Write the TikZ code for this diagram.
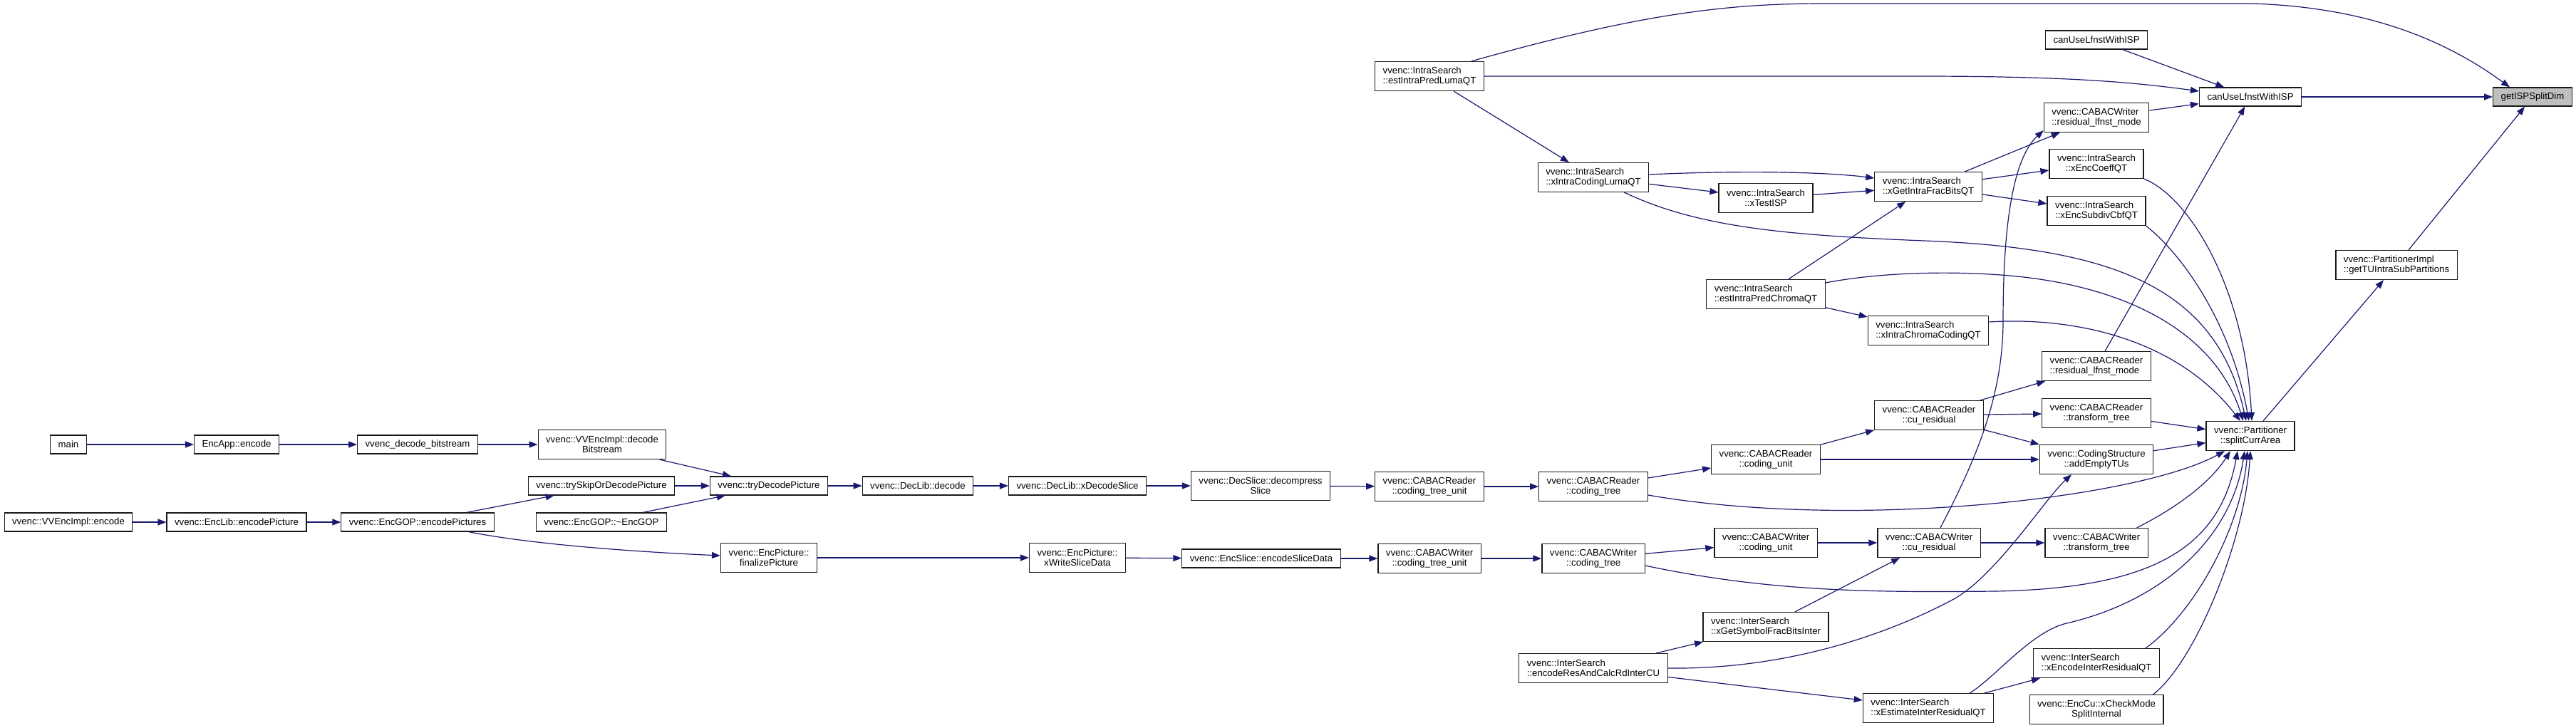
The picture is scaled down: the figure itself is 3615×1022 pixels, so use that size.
\documentclass[tikz,border=0pt]{standalone}
\usepackage{fontspec}
\setmainfont{Liberation Sans}
\usepackage{tikz}
\usetikzlibrary{arrows.meta}
\definecolor{edgeblue}{HTML}{191970}
\definecolor{boxgray}{HTML}{BFBFBF}
\newcommand{\fnfont}{\fontsize{13.2}{14}\selectfont}

\begin{document}
\begin{tikzpicture}[x=1pt, y=-1pt,
  fn/.style={draw=black!90, fill=white, line width=1.2pt,
             minimum height=26pt, inner xsep=11pt, inner ysep=2pt,
             align=center, font=\fnfont},
  fnl/.style={fn, align=left},
  two/.style={minimum height=41pt},
  hilite/.style={fn, fill=boxgray},
  arr/.style={draw=edgeblue, line width=1.2pt, -{Triangle[length=12pt,width=9pt]}}
]
  \useasboundingbox (0,0) rectangle (3615,1022);

  % callers, left part
  \node[fn] (main)     at (96,624)  {main};
  \node[fn] (encapp)   at (332,624) {EncApp::encode};
  \node[fn] (decbits)  at (586,624) {vvenc\_decode\_bitstream};
  \node[fn,two] (vvdecbs) at (845,624) {vvenc::VVEncImpl::decode\\Bitstream};
  \node[fn] (tryskip)  at (844,682) {vvenc::trySkipOrDecodePicture};
  \node[fn] (vvencode) at (96,733)  {vvenc::VVEncImpl::encode};
  \node[fn] (enclib)   at (332,733) {vvenc::EncLib::encodePicture};
  \node[fn] (encpics)  at (586,733) {vvenc::EncGOP::encodePictures};
  \node[fn] (encgopd)  at (844,733) {vvenc::EncGOP::\textasciitilde EncGOP};
  \node[fn] (trydec)   at (1079,682) {vvenc::tryDecodePicture};
  \node[fn] (declib)   at (1288,682) {vvenc::DecLib::decode};
  \node[fn] (xdecsl)   at (1512,682) {vvenc::DecLib::xDecodeSlice};
  \node[fn,two] (decomp) at (1769,682) {vvenc::DecSlice::decompress\\Slice};
  \node[fn,two] (finpic) at (1079,783) {vvenc::EncPicture::\\finalizePicture};
  \node[fn,two] (xwrite) at (1512,783) {vvenc::EncPicture::\\xWriteSliceData};
  \node[fn] (encsld)   at (1770,784) {vvenc::EncSlice::encodeSliceData};

  % CABAC reader / writer
  \node[fn,two] (rctu)   at (2006,683) {vvenc::CABACReader\\::coding\_tree\_unit};
  \node[fn,two] (rct)    at (2236,683) {vvenc::CABACReader\\::coding\_tree};
  \node[fn,two] (rcu)    at (2478,645) {vvenc::CABACReader\\::coding\_unit};
  \node[fn,two] (rcures) at (2707,583) {vvenc::CABACReader\\::cu\_residual};
  \node[fn,two] (wctu)   at (2006,784) {vvenc::CABACWriter\\::coding\_tree\_unit};
  \node[fn,two] (wct)    at (2236,784) {vvenc::CABACWriter\\::coding\_tree};
  \node[fn,two] (wcu)    at (2478,762) {vvenc::CABACWriter\\::coding\_unit};
  \node[fn,two] (wcures) at (2707,762) {vvenc::CABACWriter\\::cu\_residual};

  % inter search
  \node[fnl,two] (symfb)   at (2478,880) {vvenc::InterSearch\\::xGetSymbolFracBitsInter};
  \node[fnl,two] (encres)  at (2236,938) {vvenc::InterSearch\\::encodeResAndCalcRdInterCU};
  \node[fnl,two] (xestres) at (2706,994) {vvenc::InterSearch\\::xEstimateInterResidualQT};

  % intra search
  \node[fnl,two] (lumaqt)    at (2006,107) {vvenc::IntraSearch\\::estIntraPredLumaQT};
  \node[fnl,two] (xlumaqt)   at (2236,249) {vvenc::IntraSearch\\::xIntraCodingLumaQT};
  \node[fn,two]  (xtestisp)  at (2478,278) {vvenc::IntraSearch\\::xTestISP};
  \node[fnl,two] (xfracqt)   at (2706,262) {vvenc::IntraSearch\\::xGetIntraFracBitsQT};
  \node[fnl,two] (chromaqt)  at (2478,413) {vvenc::IntraSearch\\::estIntraPredChromaQT};
  \node[fnl,two] (xchromaqt) at (2706,464) {vvenc::IntraSearch\\::xIntraChromaCodingQT};

  % right part
  \node[fn] (lfnstup) at (2942,56)  {canUseLfnstWithISP};
  \node[fn] (lfnst)   at (3158,136) {canUseLfnstWithISP};
  \node[hilite] (ispdim) at (3554,136) {getISPSplitDim};
  \node[fnl,two] (wlfnst)  at (2942,165) {vvenc::CABACWriter\\::residual\_lfnst\_mode};
  \node[fn,two]  (xcoeff)  at (2942,230) {vvenc::IntraSearch\\::xEncCoeffQT};
  \node[fnl,two] (xsubdiv) at (2942,296) {vvenc::IntraSearch\\::xEncSubdivCbfQT};
  \node[fnl,two] (tuisp)   at (3363,372) {vvenc::PartitionerImpl\\::getTUIntraSubPartitions};
  \node[fnl,two] (rlfnst)  at (2942,514) {vvenc::CABACReader\\::residual\_lfnst\_mode};
  \node[fn,two]  (rtt)     at (2942,580) {vvenc::CABACReader\\::transform\_tree};
  \node[fn,two]  (split)   at (3158,612) {vvenc::Partitioner\\::splitCurrArea};
  \node[fn,two]  (addtus)  at (2942,645) {vvenc::CodingStructure\\::addEmptyTUs};
  \node[fn,two]  (wtt)     at (2942,762) {vvenc::CABACWriter\\::transform\_tree};
  \node[fnl,two] (xencres) at (2942,931) {vvenc::InterSearch\\::xEncodeInterResidualQT};
  \node[fn,two]  (xcheck)  at (2942,996) {vvenc::EncCu::xCheckMode\\SplitInternal};

  % decoder side
  \draw[arr] (main) -- (encapp);
  \draw[arr] (encapp) -- (decbits);
  \draw[arr] (decbits) -- (vvdecbs);
  \draw[arr] ([xshift=-10pt]vvdecbs.south east) -- ([xshift=30pt]trydec.north west);
  \draw[arr] (tryskip) -- (trydec);
  \draw[arr] ([xshift=-34pt]encgopd.north east) -- ([xshift=22pt]trydec.south west);
  \draw[arr] (trydec) -- (declib);
  \draw[arr] (declib) -- (xdecsl);
  \draw[arr] (xdecsl) -- (decomp);
  \draw[arr] (decomp) -- (rctu);
  \draw[arr] (rctu) -- (rct);
  \draw[arr] (rct) -- (rcu);
  \draw[arr] (rcu) -- (rcures);
  \draw[arr] (rcu) -- (addtus);
  \draw[arr] (rcures) -- (rlfnst);
  \draw[arr] (rcures) -- (rtt);
  \draw[arr] (rcures) -- (addtus);
  \draw[arr] (rtt) -- (split);
  \draw[arr] (addtus) -- (split);
  \draw[arr] (rlfnst) -- (lfnst);
  \draw[arr] ([yshift=-12pt]rct.east) .. controls (2600,745) and (3000,700) .. ([xshift=-36pt]split.south);

  % encoder side
  \draw[arr] (vvencode) -- (enclib);
  \draw[arr] (enclib) -- (encpics);
  \draw[arr] ([xshift=-39pt]encpics.north east) -- ([xshift=37pt]tryskip.south west);
  \draw[arr] ([xshift=-36pt]encpics.south east) .. controls (750,765) and (900,775) .. ([yshift=3pt]finpic.west);
  \draw[arr] (finpic) -- (xwrite);
  \draw[arr] (xwrite) -- (encsld);
  \draw[arr] (encsld) -- (wctu);
  \draw[arr] (wctu) -- (wct);
  \draw[arr] (wct) -- (wcu);
  \draw[arr] (wcu) -- (wcures);
  \draw[arr] (wcures) -- (wtt);
  \draw[arr] ([yshift=-10pt]wct.east) .. controls (2480,830) and (2620,832) .. (2800,830)
             .. controls (3020,826) and (3115,770) .. ([xshift=-18pt]split.south);
  \draw[arr] ([xshift=-16pt]wtt.north east) .. controls (3050,715) and (3100,680) .. ([xshift=-28pt]split.south);
  \draw[arr] ([xshift=16pt]wcures.north) .. controls (2770,650) and (2811,560) .. (2811,450)
             .. controls (2811,330) and (2822,225) .. ([yshift=3pt]wlfnst.south west);

  % intra
  \draw[arr] ([xshift=-18pt]lumaqt.north east) .. controls (2300,20) and (2420,5) .. (2560,5) -- (3160,5)
             .. controls (3320,10) and (3430,55) .. ([xshift=-32pt]ispdim.north);
  \draw[arr] (lumaqt.east) -- (2690,107) .. controls (2900,107) and (2990,115) .. ([yshift=8pt]lfnst.west);
  \draw[arr] (lumaqt) -- (xlumaqt);
  \draw[arr] ([yshift=4pt]xlumaqt.east) .. controls (2420,240) and (2550,240) .. ([yshift=12pt]xfracqt.west);
  \draw[arr] (xlumaqt) -- (xtestisp);
  \draw[arr] (xtestisp) -- (xfracqt);
  \draw[arr] ([xshift=-35pt]xlumaqt.south east) .. controls (2380,318) and (2500,330) .. (2700,338)
             .. controls (2960,348) and (3110,400) .. ([xshift=-6pt]split.north);
  \draw[arr] (chromaqt) -- (xfracqt);
  \draw[arr] (chromaqt) -- (xchromaqt);
  \draw[arr] ([yshift=16pt]chromaqt.east) .. controls (2640,382) and (2740,380) .. (2820,387)
             .. controls (2990,402) and (3110,470) .. ([xshift=-10pt]split.north);
  \draw[arr] ([yshift=12pt]xchromaqt.east) .. controls (2900,445) and (3050,470) .. ([xshift=-14pt]split.north);
  \draw[arr] (xfracqt) -- (wlfnst);
  \draw[arr] (xfracqt) -- (xcoeff);
  \draw[arr] (xfracqt) -- (xsubdiv);
  \draw[arr] (xcoeff.south east) .. controls (3070,275) and (3150,400) .. ([xshift=2pt]split.north);
  \draw[arr] (xsubdiv.south east) .. controls (3060,355) and (3130,450) .. ([xshift=-2pt]split.north);
  \draw[arr] (wlfnst) -- (lfnst);
  \draw[arr] (lfnstup) -- (lfnst);
  \draw[arr] (lfnst) -- (ispdim);
  \draw[arr] (split) -- (tuisp);
  \draw[arr] (tuisp) -- (ispdim);

  % inter
  \draw[arr] (encres) -- (symfb);
  \draw[arr] (symfb) -- (wcures);
  \draw[arr] (encres) -- (xestres);
  \draw[arr] (xestres) -- (xencres);
  \draw[arr] (encres.east) .. controls (2500,940) and (2640,895) .. (2740,842)
             .. controls (2800,810) and (2870,700) .. ([xshift=-35pt]addtus.south);
  \draw[arr] ([xshift=-34pt]xestres.north east) .. controls (2800,951) and (2850,887) .. (2900,875)
             .. controls (3030,845) and (3130,760) .. ([xshift=-8pt]split.south);
  \draw[arr] ([xshift=-20pt]xencres.north east) .. controls (3080,860) and (3145,740) .. ([xshift=-4pt]split.south);
  \draw[arr] ([xshift=-15pt]xcheck.north east) .. controls (3080,930) and (3150,760) .. (split.south);

\end{tikzpicture}
\end{document}
